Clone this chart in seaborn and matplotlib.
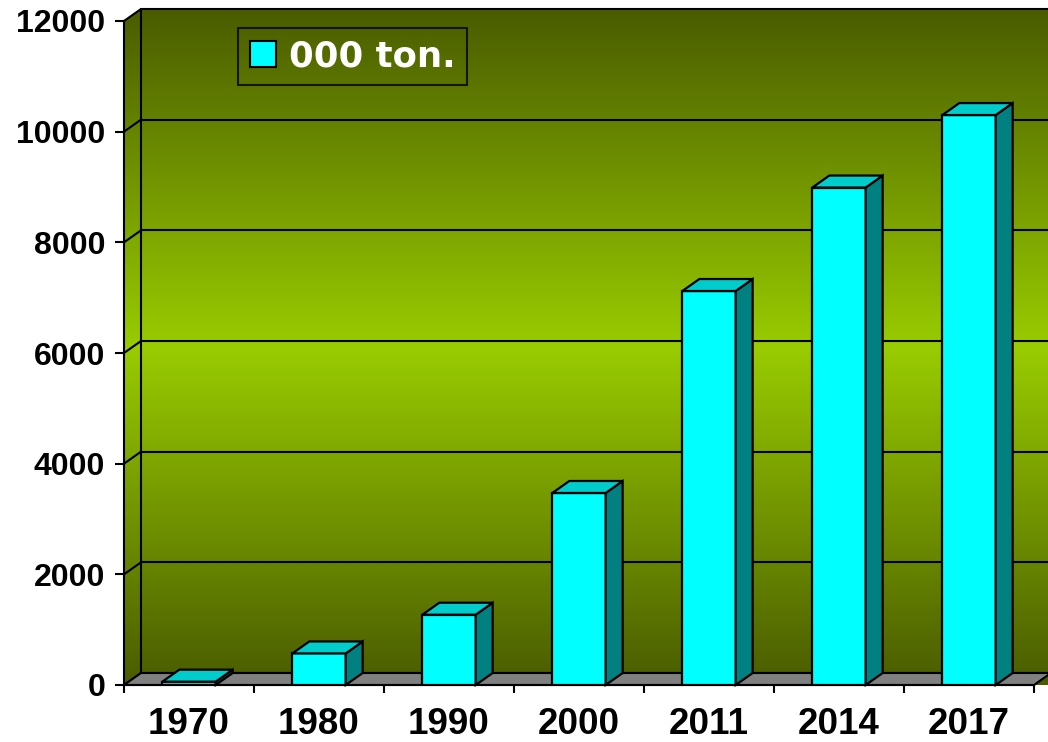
import numpy as np
import matplotlib
matplotlib.use('Agg')
import matplotlib.pyplot as plt
import seaborn as sns
from matplotlib.colors import LinearSegmentedColormap
from matplotlib.patches import Polygon, Patch

years = ['1970', '1980', '1990', '2000', '2011', '2014', '2017']
values = [60, 570, 1270, 3470, 7120, 8990, 10300]
series_name = '000 ton.'
y_ticks = [0, 2000, 4000, 6000, 8000, 10000, 12000]

sns.set_style('white')
plt.rcParams['font.family'] = ['Liberation Sans', 'DejaVu Sans']

W, H = 1048, 742
fig = plt.figure(figsize=(W / 100, H / 100), dpi=100)
ax = fig.add_axes([124 / W, 1 - 685 / H, 910 / W, 664 / H])
ax.patch.set_visible(False)

xmin, xmax, ymax = -0.5, len(years) - 0.5, 12000
# depth offset (17 px right, 12 px up) in data units
ddx = (xmax - xmin) * 17 / 910
ddy = ymax * 12 / 664

# gradient walls (back + left side)
cmap = LinearSegmentedColormap.from_list('wall', ['#4a5c00', '#99cc00', '#4a5c00'])
grad = np.linspace(0, 1, 256)[:, None]
im = ax.imshow(grad, extent=(xmin, xmax + ddx, 0, ymax + ddy), origin='lower',
               aspect='auto', cmap=cmap, zorder=0)
wall_clip = Polygon([(xmin, 0), (xmin, ymax), (xmin + ddx, ymax + ddy),
                     (xmax + ddx, ymax + ddy), (xmax + ddx, 0)],
                    closed=True, transform=ax.transData)
im.set_clip_box(fig.bbox)
im.set_clip_path(wall_clip)

# gridlines on back wall and left wall
for v in y_ticks:
    ax.plot([xmin + ddx, xmax + ddx], [v + ddy, v + ddy], color='black', lw=1.5,
            clip_on=False, zorder=1)
    ax.plot([xmin, xmin + ddx], [v, v + ddy], color='black', lw=1.5,
            clip_on=False, zorder=1)
ax.plot([xmin + ddx, xmin + ddx], [ddy, ymax + ddy], color='black', lw=1.5,
        clip_on=False, zorder=1)

# floor
floor = Polygon([(xmin, 0), (xmax, 0), (xmax + ddx, ddy), (xmin + ddx, ddy)],
                closed=True, facecolor='#808080', edgecolor='black', lw=1.5,
                clip_on=False, zorder=1.5)
ax.add_patch(floor)

sns.barplot(x=years, y=values, color='#00ffff', saturation=1, width=0.41,
            edgecolor='black', linewidth=1.6, ax=ax, zorder=3)

for p in list(ax.patches):
    if p is floor:
        continue
    x0, w, h = p.get_x(), p.get_width(), p.get_height()
    top = Polygon([(x0, h), (x0 + w, h), (x0 + w + ddx, h + ddy), (x0 + ddx, h + ddy)],
                  closed=True, facecolor='#00cccc', edgecolor='black', lw=1.6,
                  clip_on=False, zorder=3)
    side = Polygon([(x0 + w, 0), (x0 + w + ddx, ddy), (x0 + w + ddx, h + ddy), (x0 + w, h)],
                   closed=True, facecolor='#008080', edgecolor='black', lw=1.6,
                   clip_on=False, zorder=3)
    ax.add_patch(side)
    ax.add_patch(top)

ax.set_xlim(xmin, xmax)
ax.set_ylim(0, ymax)

for s in ['top', 'right']:
    ax.spines[s].set_visible(False)
for s in ['left', 'bottom']:
    ax.spines[s].set_color('black')
    ax.spines[s].set_linewidth(1.5)
    ax.spines[s].set_zorder(2)

ax.set_yticks(y_ticks)
ax.set_yticklabels([str(v) for v in y_ticks], fontsize=23, fontweight='bold', color='black')
ax.tick_params(axis='y', length=6.5, width=1.5, color='black', pad=7, direction='out', left=True)

ax.set_xticks(np.arange(xmin, xmax + 0.5, 1.0))
ax.set_xticklabels([])
ax.set_xticks(np.arange(len(years)), minor=True)
ax.set_xticklabels(years, minor=True, fontsize=26.5, fontweight='bold', color='black')
ax.tick_params(axis='x', which='major', length=6, width=1.5, color='black',
               direction='out', bottom=True)
ax.tick_params(axis='x', which='minor', length=0, pad=16)
ax.set_xlabel('')
ax.set_ylabel('')

leg = ax.legend(handles=[Patch(facecolor='#00ffff', edgecolor='black', lw=1.5, label=series_name)],
                loc='upper left', bbox_to_anchor=((238 - 124) / 910, 1 - (28 - 21) / 664),
                frameon=True, fancybox=False, borderpad=0.33, handlelength=0.75,
                handleheight=0.75, handletextpad=0.35, borderaxespad=0,
                prop={'family': 'DejaVu Sans', 'weight': 'bold', 'size': 25.5})
leg.get_frame().set_facecolor('none')
leg.get_frame().set_edgecolor('black')
leg.get_frame().set_linewidth(1.5)
for t in leg.get_texts():
    t.set_color('white')
leg.set_zorder(5)

fig.savefig('out.png', dpi=100)
